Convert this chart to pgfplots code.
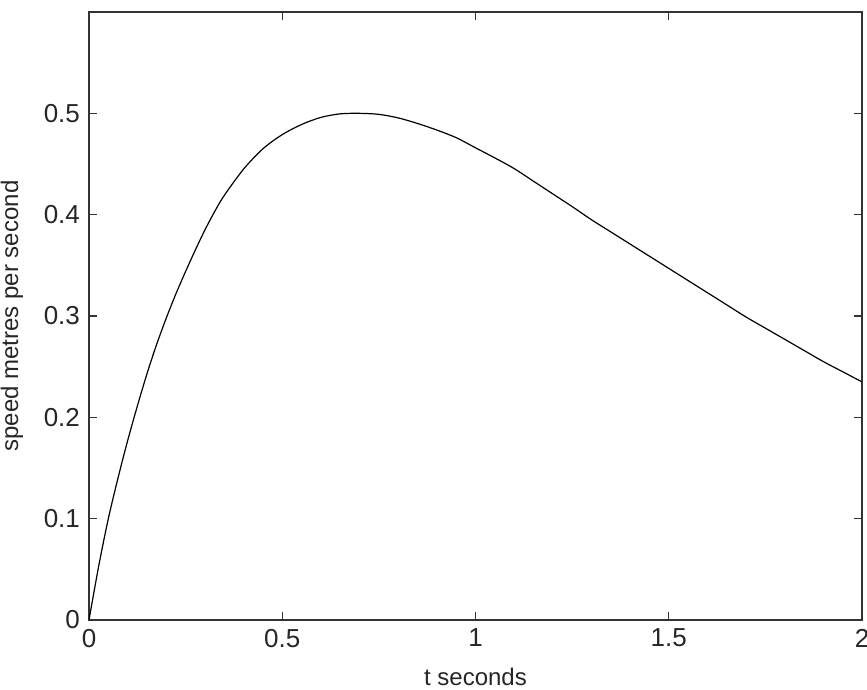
\documentclass[border=0pt]{standalone}
\usepackage{fontspec}
\setmainfont{Liberation Sans}
\usepackage{pgfplots}
\pgfplotsset{compat=1.18}
\begin{document}
\begin{tikzpicture}
\useasboundingbox (-44.5pt,-35pt) rectangle (389pt,310pt);
\begin{axis}[
    at={(0,0)}, anchor=south west,
    scale only axis, width=386.5pt, height=304pt,
    xmin=0, xmax=2, ymin=0, ymax=0.6,
    xtick={0,0.5,1,1.5,2}, ytick={0,0.1,0.2,0.3,0.4,0.5},
    xticklabels={0,0.5,1,1.5,2}, yticklabels={0,0.1,0.2,0.3,0.4,0.5},
    major tick length=4pt,
    axis line style={black!80, line width=0.7pt},
    tick style={black!80, line width=0.6pt},
    tick label style={font=\fontsize{13}{15}\selectfont, text=black!85},
    label style={font=\fontsize{12}{14}\selectfont, text=black!85},
    xticklabel style={yshift=-1pt},
    yticklabel style={xshift=-1pt},
    xlabel={t seconds}, ylabel={speed metres per second},
    xlabel style={at={(axis description cs:0.5,-0.094)}, anchor=center},
    ylabel style={at={(axis description cs:-0.0996,0.5)}, anchor=center},
  ]
% speed
\addplot[black, line width=0.6pt, smooth] coordinates {
  (0,0) (0.025,0.053) (0.05,0.100) (0.075,0.140) (0.1,0.177)
  (0.125,0.211) (0.15,0.243) (0.175,0.272) (0.2,0.298)
  (0.225,0.322) (0.25,0.344) (0.275,0.365) (0.3,0.385)
  (0.325,0.403) (0.35,0.419) (0.4,0.445) (0.45,0.465)
  (0.5,0.479) (0.55,0.489) (0.6,0.496) (0.65,0.4995)
  (0.7,0.500) (0.75,0.499) (0.8,0.4955) (0.85,0.490)
  (0.9,0.4835) (0.95,0.476) (1.0,0.466) (1.05,0.456)
  (1.1,0.4455) (1.15,0.433) (1.2,0.4205) (1.25,0.408)
  (1.3,0.395) (1.35,0.383) (1.4,0.371) (1.45,0.359)
  (1.5,0.347) (1.55,0.335) (1.6,0.323) (1.65,0.311)
  (1.7,0.299) (1.75,0.288) (1.8,0.277) (1.85,0.266)
  (1.9,0.255) (1.95,0.245) (2.0,0.235)};
\end{axis}
\end{tikzpicture}
\end{document}
